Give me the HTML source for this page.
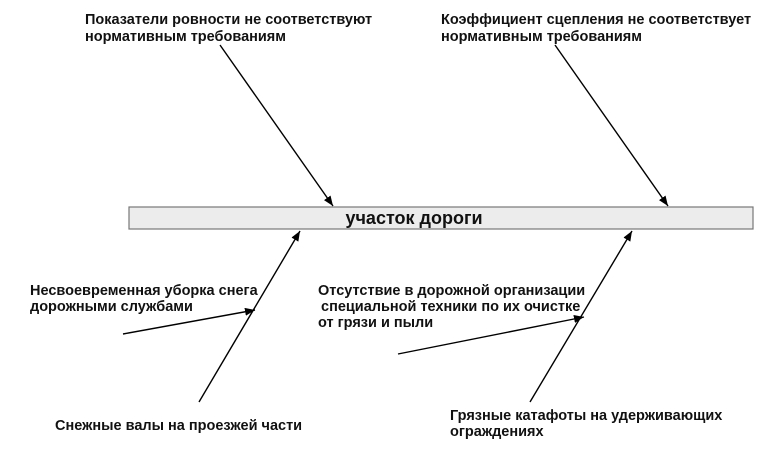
<!DOCTYPE html>
<html><head><meta charset="utf-8"><style>
body{margin:0;width:771px;height:462px;background:#fff;overflow:hidden}
svg text{font-family:"Liberation Sans",sans-serif;font-weight:bold;font-size:14.5px;fill:#111}
</style></head><body>
<svg width="771" height="462" viewBox="0 0 771 462">
<defs><marker id="a" markerWidth="10" markerHeight="8" refX="10" refY="4" orient="auto" markerUnits="userSpaceOnUse"><path d="M0,0 L10,4 L0,8 Z" fill="#000"/></marker></defs>
<rect x="129" y="207" width="624" height="22" fill="#ececec" stroke="#777" stroke-width="1.2"/>
<text x="414" y="224" text-anchor="middle" style="font-size:18px">участок дороги</text>
<g stroke="#000" stroke-width="1.4" fill="none" marker-end="url(#a)">
<line x1="220" y1="45" x2="333" y2="206"/>
<line x1="555" y1="45" x2="668" y2="206"/>
<line x1="199" y1="402" x2="300" y2="231"/>
<line x1="530" y1="402" x2="632" y2="231"/>
<line x1="123" y1="334" x2="255" y2="310"/>
<line x1="398" y1="354" x2="584" y2="317"/>
</g>
<text x="85" y="24">Показатели ровности не соответствуют</text>
<text x="85" y="41">нормативным требованиям</text>
<text x="441" y="24">Коэффициент сцепления не соответствует</text>
<text x="441" y="41">нормативным требованиям</text>
<text x="30" y="295">Несвоевременная уборка снега</text>
<text x="30" y="311">дорожными службами</text>
<text x="55" y="430">Снежные валы на проезжей части</text>
<text x="318" y="295">Отсутствие в дорожной организации</text>
<text x="321" y="311">специальной техники по их очистке</text>
<text x="318" y="327">от грязи и пыли</text>
<text x="450" y="420">Грязные катафоты на удерживающих</text>
<text x="450" y="436">ограждениях</text>
</svg>
</body></html>
